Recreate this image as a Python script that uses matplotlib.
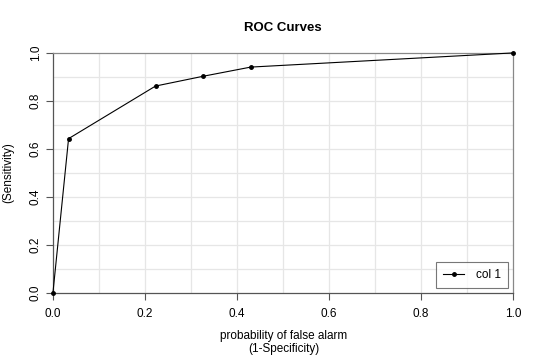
import matplotlib
matplotlib.use("Agg")
import matplotlib.pyplot as plt
import numpy as np

plt.rcParams['font.family'] = ['Liberation Sans', 'DejaVu Sans']

# ROC points (false alarm rate, sensitivity)
fpr = [0.0, 0.034, 0.223, 0.327, 0.430, 1.0]
tpr = [0.0, 0.643, 0.862, 0.903, 0.941, 1.0]
ticks = [0.0, 0.2, 0.4, 0.6, 0.8, 1.0]
series_name = "col 1"

fig = plt.figure(figsize=(5.4, 3.6), dpi=100)
ax = fig.add_axes([0.098, 0.186, 0.852, 0.667])

# light grid every 0.1
for g in np.arange(0.1, 1.0, 0.1):
    ax.axvline(g, color="#e6e6e6", lw=0.9, zorder=0)
    ax.axhline(g, color="#e6e6e6", lw=0.9, zorder=0)

ax.plot(fpr, tpr, color="black", lw=0.8, marker="o", markersize=2.5,
        label=series_name, clip_on=False, zorder=3)

ax.set_xlim(0, 1)
ax.set_ylim(0, 1)
ax.set_xticks(ticks)
ax.set_yticks(ticks)
ax.set_xticklabels([f"{t:.1f}" for t in ticks], fontsize=8.5)
ax.set_yticklabels([f"{t:.1f}" for t in ticks], fontsize=8.5, rotation=90, va="center")
ax.tick_params(axis="x", length=5, width=0.8, color="#555555", pad=6)
ax.tick_params(axis="y", length=5, width=0.8, color="#555555", pad=3)
for s in ax.spines.values():
    s.set_color("#888888")
    s.set_linewidth(0.9)
ax.spines["left"].set_color("#555555")
ax.spines["bottom"].set_color("#555555")

ax.set_title("ROC Curves", fontsize=9.5, fontweight="bold", pad=16)
fig.text(0.525, 0.083, "probability of false alarm\n(1-Specificity)", fontsize=8.5,
         ha="center", va="top", linespacing=1.1)
fig.text(0.016, 0.52, "(Sensitivity)", rotation=90, fontsize=8.5, ha="center", va="center")

leg = ax.legend(loc="lower right", fontsize=8.5, frameon=True, fancybox=False,
                handlelength=1.8, handletextpad=1.0, borderaxespad=0.4, borderpad=0.6)
leg.get_frame().set_edgecolor("#555555")
leg.get_frame().set_linewidth(0.8)

fig.savefig("out.png", dpi=100)
